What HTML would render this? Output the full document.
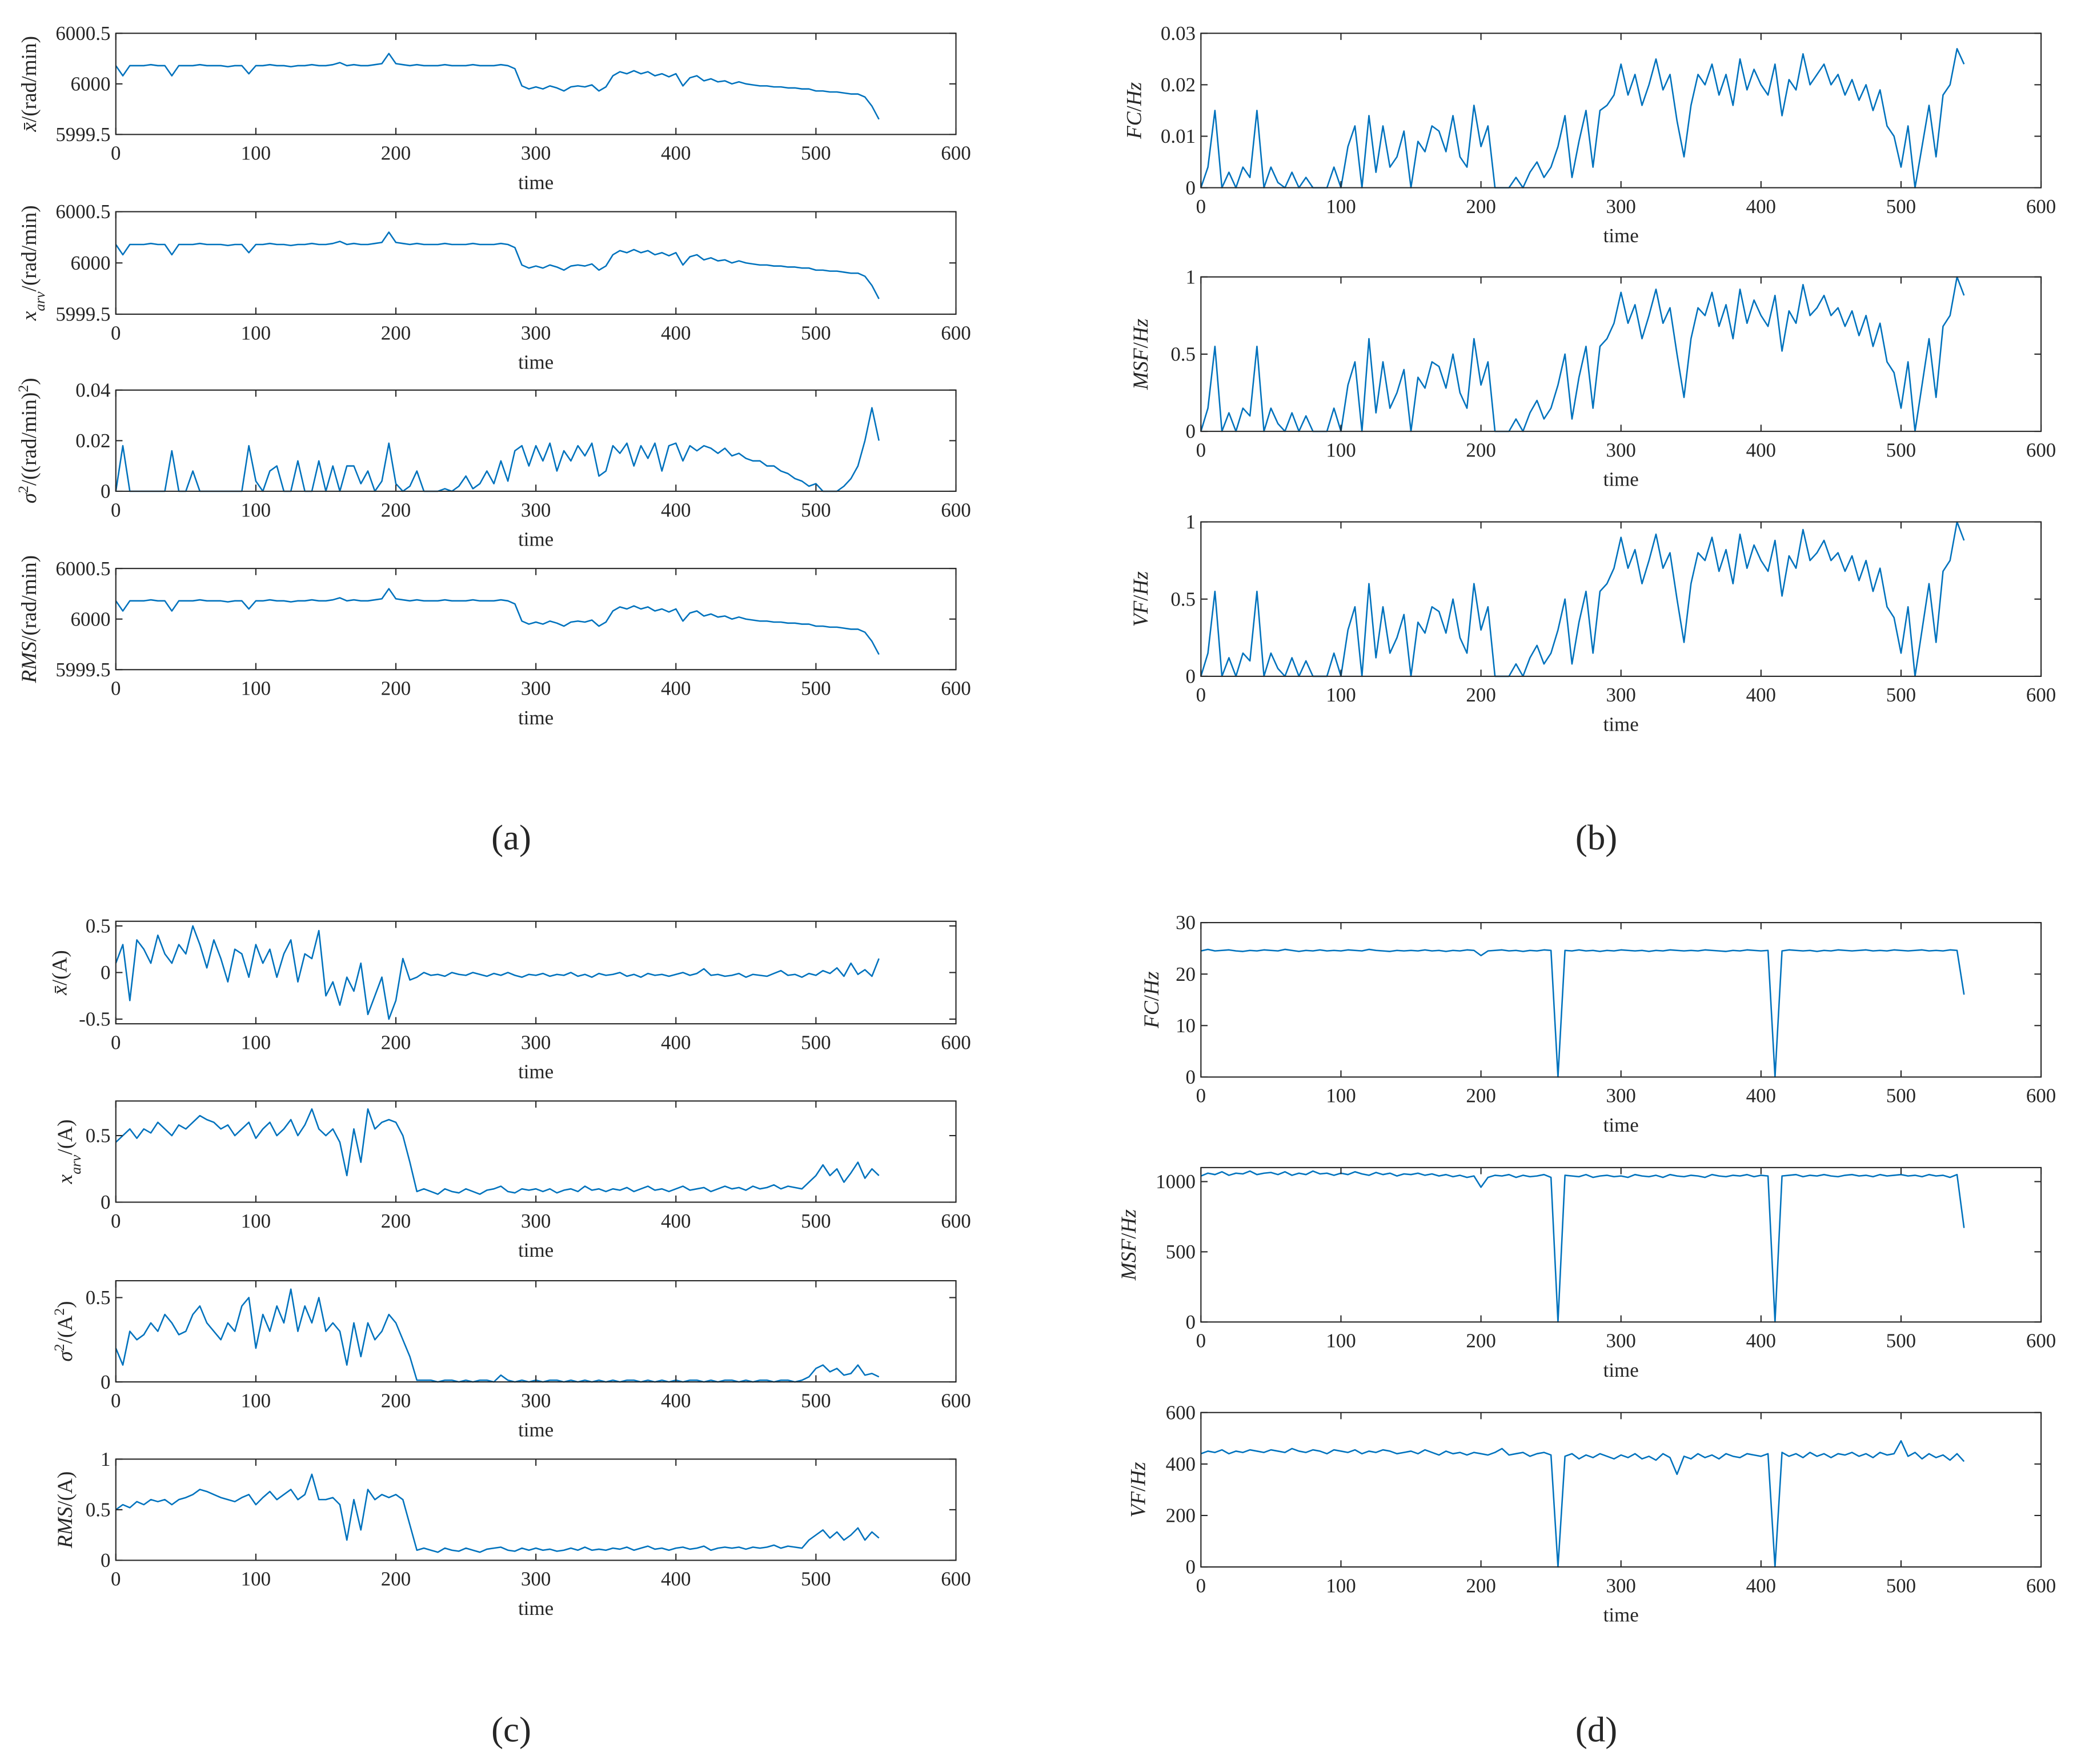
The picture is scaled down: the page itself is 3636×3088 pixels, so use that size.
<!DOCTYPE html>
<html><head><meta charset="utf-8"><style>
html,body{margin:0;padding:0;background:#fff;}
svg{display:block;}
text{font-family:"Liberation Serif",serif;fill:#262626;}
</style></head>
<body>
<svg id="fig" width="3636" height="3088" viewBox="0 0 1560 1325" preserveAspectRatio="none" xmlns="http://www.w3.org/2000/svg">
<rect x="0" y="0" width="1560" height="1325" fill="#fff"/>
<text x="384" y="638" font-size="27" text-anchor="middle">(a)</text>
<text x="1199" y="638" font-size="27" text-anchor="middle">(b)</text>
<text x="384" y="1308" font-size="27" text-anchor="middle">(c)</text>
<text x="1199" y="1308" font-size="27" text-anchor="middle">(d)</text>
</svg>
<script>
const xTicks = [0,100,200,300,400,500,600];
const tStep = 5;
const speedV = [
6000.18,6000.08,6000.18,6000.18,6000.18,6000.19,6000.18,6000.18,6000.08,6000.18,
6000.18,6000.18,6000.19,6000.18,6000.18,6000.18,6000.17,6000.18,6000.18,6000.1,
6000.18,6000.18,6000.19,6000.18,6000.18,6000.17,6000.18,6000.18,6000.19,6000.18,
6000.18,6000.19,6000.21,6000.18,6000.19,6000.18,6000.18,6000.19,6000.2,6000.3,
6000.2,6000.19,6000.18,6000.19,6000.18,6000.18,6000.18,6000.19,6000.18,6000.18,
6000.18,6000.19,6000.18,6000.18,6000.18,6000.19,6000.18,6000.15,5999.98,5999.95,
5999.97,5999.95,5999.98,5999.96,5999.93,5999.97,5999.98,5999.97,5999.99,5999.93,
5999.97,6000.08,6000.12,6000.1,6000.13,6000.1,6000.12,6000.08,6000.1,6000.07,
6000.1,5999.98,6000.06,6000.08,6000.03,6000.05,6000.02,6000.03,6000.0,6000.02,
6000.0,5999.99,5999.98,5999.98,5999.97,5999.97,5999.96,5999.96,5999.95,5999.95,
5999.93,5999.93,5999.92,5999.92,5999.91,5999.9,5999.9,5999.87,5999.78,5999.65];
const speedVarV = [
0,.018,0,0,0,0,0,0,.016,0,
0,.008,0,0,0,0,0,0,0,.018,
.004,0,.008,.01,0,0,.012,0,0,.012,
0,.01,0,.01,.01,.003,.008,0,.004,.019,
.003,0,.002,.008,0,0,0,.001,0,.002,
.006,.001,.003,.008,.003,.012,.004,.016,.018,.01,
.018,.012,.019,.008,.016,.012,.018,.014,.019,.006,
.008,.018,.015,.019,.01,.018,.013,.019,.008,.018,
.019,.012,.018,.016,.018,.017,.015,.017,.014,.015,
.013,.012,.012,.01,.01,.008,.007,.005,.004,.002,
.003,0,0,0,.002,.005,.01,.02,.033,.02];
const fcV = [
0,.004,.015,0,.003,0,.004,.002,.015,0,
.004,.001,0,.003,0,.002,0,0,0,.004,
0,.008,.012,0,.014,.003,.012,.004,.006,.011,
0,.009,.007,.012,.011,.007,.014,.006,.004,.016,
.008,.012,0,0,0,.002,0,.003,.005,.002,
.004,.008,.014,.002,.009,.015,.004,.015,.016,.018,
.024,.018,.022,.016,.02,.025,.019,.022,.013,.006,
.016,.022,.02,.024,.018,.022,.016,.025,.019,.023,
.02,.018,.024,.014,.021,.019,.026,.02,.022,.024,
.02,.022,.018,.021,.017,.02,.015,.019,.012,.01,
.004,.012,0,.008,.016,.006,.018,.02,.027,.024];
const msfV = [
0,.15,.55,0,.12,0,.15,.1,.55,0,
.15,.05,0,.12,0,.1,0,0,0,.15,
0,.3,.45,0,.6,.12,.45,.15,.25,.4,
0,.35,.28,.45,.42,.28,.5,.25,.15,.6,
.3,.45,0,0,0,.08,0,.12,.2,.08,
.15,.3,.5,.08,.35,.55,.15,.55,.6,.7,
.9,.7,.82,.6,.75,.92,.7,.8,.5,.22,
.6,.8,.75,.9,.68,.82,.6,.92,.7,.85,
.75,.68,.88,.52,.78,.7,.95,.75,.8,.88,
.75,.8,.68,.78,.62,.75,.55,.7,.45,.38,
.15,.45,0,.3,.6,.22,.68,.75,1,.88];
const curMeanV = [
.1,.3,-.3,.35,.25,.1,.4,.2,.1,.3,
.2,.5,.3,.05,.35,.15,-.1,.25,.2,-.05,
.3,.1,.25,-.05,.2,.35,-.1,.2,.15,.45,
-.25,-.1,-.35,-.05,-.2,.1,-.45,-.25,-.05,-.5,
-.3,.15,-.08,-.05,0,-.03,-.02,-.04,0,-.02,
-.03,0,-.02,-.04,-.01,-.03,0,-.03,-.05,-.02,
-.03,-.01,-.04,-.02,-.03,0,-.04,-.02,-.05,-.01,
-.03,-.02,0,-.04,-.02,-.05,-.01,-.03,-.02,-.04,
-.02,0,-.03,-.01,.04,-.03,-.02,-.04,-.03,-.01,
-.05,-.02,-.03,-.04,-.01,.02,-.03,-.02,-.05,-.01,
-.03,.02,-.01,.05,-.04,.1,-.02,.03,-.04,.15];
const curArvV = [
.45,.5,.55,.48,.55,.52,.6,.55,.5,.58,
.55,.6,.65,.62,.6,.55,.58,.5,.55,.6,
.48,.55,.6,.5,.55,.62,.5,.58,.7,.55,
.5,.55,.45,.2,.55,.3,.7,.55,.6,.62,
.6,.5,.3,.08,.1,.08,.06,.1,.08,.07,
.1,.08,.06,.09,.1,.12,.08,.07,.1,.09,
.1,.08,.1,.07,.09,.1,.08,.12,.09,.1,
.08,.1,.09,.11,.08,.1,.12,.09,.1,.08,
.1,.12,.09,.1,.11,.08,.1,.12,.1,.11,
.09,.12,.1,.11,.13,.1,.12,.11,.1,.15,
.2,.28,.2,.25,.15,.22,.3,.18,.25,.2];
const curVarV = [
.2,.1,.3,.25,.28,.35,.3,.4,.35,.28,
.3,.4,.45,.35,.3,.25,.35,.3,.45,.5,
.2,.4,.3,.45,.35,.55,.3,.45,.35,.5,
.3,.35,.3,.1,.35,.15,.35,.25,.3,.4,
.35,.25,.15,.01,.01,.01,0,.01,.01,0,
.01,0,.01,.01,0,.04,.01,0,.01,0,
.01,0,.01,.01,0,.01,0,.01,0,.01,
0,.01,0,.01,.01,0,.01,0,.01,0,
.01,0,.01,.01,0,.01,0,.01,.01,0,
.01,0,.01,.01,0,.01,.01,0,.01,.03,
.08,.1,.06,.08,.04,.05,.1,.04,.05,.03];
const curRmsV = [
.5,.55,.52,.58,.55,.6,.58,.6,.55,.6,
.62,.65,.7,.68,.65,.62,.6,.58,.62,.65,
.55,.62,.68,.6,.65,.7,.6,.65,.85,.6,
.6,.62,.55,.2,.6,.3,.7,.6,.65,.62,
.65,.6,.35,.1,.12,.1,.08,.12,.1,.09,
.12,.1,.08,.11,.12,.13,.1,.09,.12,.1,
.12,.1,.11,.09,.1,.12,.1,.13,.1,.11,
.1,.12,.11,.13,.1,.12,.14,.11,.12,.1,
.12,.13,.11,.12,.14,.1,.12,.13,.12,.13,
.11,.13,.12,.13,.15,.12,.14,.13,.12,.2,
.25,.3,.22,.28,.2,.25,.32,.2,.28,.22];
const dFcV = [
24.5,24.8,24.5,24.6,24.7,24.5,24.4,24.6,24.5,24.7,
24.6,24.5,24.8,24.6,24.4,24.6,24.5,24.7,24.5,24.6,
24.5,24.7,24.6,24.5,24.8,24.6,24.5,24.4,24.6,24.5,
24.6,24.5,24.7,24.5,24.6,24.4,24.6,24.5,24.7,24.6,
23.6,24.5,24.6,24.7,24.5,24.6,24.4,24.6,24.5,24.7,
24.6,0,24.6,24.5,24.7,24.5,24.6,24.4,24.6,24.5,
24.7,24.6,24.5,24.6,24.4,24.6,24.5,24.7,24.6,24.5,
24.6,24.5,24.7,24.6,24.5,24.4,24.6,24.5,24.7,24.6,
24.5,24.6,0,24.5,24.7,24.6,24.5,24.6,24.4,24.6,
24.5,24.7,24.6,24.5,24.6,24.7,24.5,24.6,24.5,24.7,
24.6,24.5,24.6,24.7,24.5,24.6,24.5,24.7,24.6,16];
const dMsfV = [
1040,1060,1050,1070,1045,1060,1055,1075,1050,1060,
1065,1050,1070,1045,1060,1050,1075,1055,1060,1045,
1060,1050,1070,1055,1045,1065,1050,1060,1040,1055,
1050,1060,1045,1055,1040,1050,1035,1045,1030,1040,
960,1030,1045,1040,1050,1030,1045,1035,1040,1050,
1030,0,1045,1040,1035,1050,1030,1040,1045,1035,
1040,1030,1050,1040,1035,1045,1030,1050,1040,1035,
1045,1040,1030,1050,1040,1035,1045,1040,1050,1035,
1045,1040,0,1040,1045,1050,1035,1045,1040,1050,
1040,1035,1045,1050,1040,1045,1035,1050,1040,1045,
1050,1040,1045,1035,1050,1040,1045,1030,1050,670];
const dVfV = [
440,450,445,455,440,450,445,455,450,445,
455,450,445,460,450,445,455,450,440,455,
450,445,455,440,450,445,455,450,440,445,
450,440,455,445,435,450,440,445,435,445,
440,435,445,460,435,440,445,430,440,445,
435,0,430,440,420,435,425,440,430,420,
435,425,440,420,430,415,440,425,360,430,
420,440,425,435,420,440,430,425,440,435,
430,440,0,445,430,440,425,445,430,440,
425,440,435,445,430,440,425,445,435,440,
490,430,445,420,440,425,435,415,440,410];

const NS = 'http://www.w3.org/2000/svg';
const svg = document.getElementById('fig');
function mk(tag, attrs, parent){
  const e = document.createElementNS(NS, tag);
  for (const k in attrs) e.setAttribute(k, attrs[k]);
  (parent||svg).appendChild(e);
  return e;
}
function fmt(v){ return String(v); }

function plot(id, x0, x1, yt, yb, ymin, ymax, yTicks, values, labelParts, labelX){
  const g = mk('g', {});
  
  
  const xs = t => x0 + (t - 0) / 600 * (x1 - x0);
  const ys = v => yb - (v - ymin) / (ymax - ymin) * (yb - yt);
  // series
  let d = '';
  values.forEach((v, i) => { d += (i ? 'L' : 'M') + xs(i * tStep).toFixed(2) + ',' + ys(v).toFixed(2); });
  const line = mk('path', {d: d, fill: 'none', stroke: '#0072BD', 'stroke-width': 1.1, 'stroke-linejoin': 'round'}, g);
  
  
  // frame
  const fr = mk('rect', {x: x0, y: yt, width: x1 - x0, height: yb - yt, fill: 'none', stroke: '#262626', 'stroke-width': 0.9}, g);
  
  
  // x ticks
  xTicks.forEach(t => {
    const x = xs(t);
    mk('line', {x1: x, x2: x, y1: yb, y2: yb - 5, stroke: '#262626', 'stroke-width': 0.9}, g);
    mk('line', {x1: x, x2: x, y1: yt, y2: yt + 5, stroke: '#262626', 'stroke-width': 0.9}, g);
    const tl = mk('text', {x: x, y: yb + 19, 'font-size': 15, 'text-anchor': 'middle'}, g);
    tl.textContent = fmt(t);
    
    
  });
  yTicks.forEach(v => {
    const y = ys(v);
    mk('line', {x1: x0, x2: x0 + 5, y1: y, y2: y, stroke: '#262626', 'stroke-width': 0.9}, g);
    mk('line', {x1: x1, x2: x1 - 5, y1: y, y2: y, stroke: '#262626', 'stroke-width': 0.9}, g);
    const tl = mk('text', {x: x0 - 4, y: y + 5, 'font-size': 15, 'text-anchor': 'end'}, g);
    tl.textContent = fmt(v);
    
    
  });
  const xl = mk('text', {x: (x0 + x1) / 2, y: yb + 41, 'font-size': 15, 'text-anchor': 'middle'}, g);
  xl.textContent = 'time';
  
  
  const cy = (yt + yb) / 2;
  const yl = mk('text', {x: 0, y: 0, 'font-size': 16, 'text-anchor': 'middle', transform: 'translate(' + labelX + ',' + cy + ') rotate(-90)'}, g);
  
  
  labelParts.forEach(p => {
    const ts = mk('tspan', {}, yl);
    if (p.i) ts.setAttribute('font-style', 'italic');
    if (p.sub) { ts.setAttribute('baseline-shift', 'sub'); ts.setAttribute('font-size', 11); }
    if (p.sup) { ts.setAttribute('baseline-shift', 'super'); ts.setAttribute('font-size', 11); }
    ts.textContent = p.t;
  });
}

const xbar = [{t:'x\u0304', i:1}];
const xarv = [{t:'x', i:1},{t:'arv', i:1, sub:1}];
// (a)
plot('a-mean', 87, 718, 25, 101, 5999.5, 6000.5, [5999.5,6000,6000.5], speedV, xbar.concat([{t:'/(rad/min)'}]), 27);
plot('a-arv', 87, 718, 159, 236, 5999.5, 6000.5, [5999.5,6000,6000.5], speedV, xarv.concat([{t:'/(rad/min)'}]), 27);
plot('a-var', 87, 718, 293, 369, 0, 0.04, [0,0.02,0.04], speedVarV, [{t:'σ', i:1},{t:'2', sup:1},{t:'/((rad/min)'},{t:'2', sup:1},{t:')'}], 27);
plot('a-rms', 87, 718, 427, 503, 5999.5, 6000.5, [5999.5,6000,6000.5], speedV, [{t:'RMS', i:1},{t:'/(rad/min)'}], 27);
// (b)
plot('b-fc', 902, 1533, 25, 141, 0, 0.03, [0,0.01,0.02,0.03], fcV, [{t:'FC', i:1},{t:'/'},{t:'Hz', i:1}], 857);
plot('b-msf', 902, 1533, 208, 324, 0, 1, [0,0.5,1], msfV, [{t:'MSF', i:1},{t:'/'},{t:'Hz', i:1}], 862);
plot('b-vf', 902, 1533, 392, 508, 0, 1, [0,0.5,1], msfV, [{t:'VF', i:1},{t:'/'},{t:'Hz', i:1}], 862);
// (c)
plot('c-mean', 87, 718, 692, 769, -0.55, 0.55, [-0.5,0,0.5], curMeanV, xbar.concat([{t:'/(A)'}]), 50);
plot('c-arv', 87, 718, 827, 903, 0, 0.76, [0,0.5], curArvV, xarv.concat([{t:'/(A)'}]), 54);
plot('c-var', 87, 718, 962, 1038, 0, 0.6, [0,0.5], curVarV, [{t:'σ', i:1},{t:'2', sup:1},{t:'/(A'},{t:'2', sup:1},{t:')'}], 54);
plot('c-rms', 87, 718, 1096, 1172, 0, 1, [0,0.5,1], curRmsV, [{t:'RMS', i:1},{t:'/(A)'}], 54);
// (d)
plot('d-fc', 902, 1533, 693, 809, 0, 30, [0,10,20,30], dFcV, [{t:'FC', i:1},{t:'/'},{t:'Hz', i:1}], 870);
plot('d-msf', 902, 1533, 877, 993, 0, 1100, [0,500,1000], dMsfV, [{t:'MSF', i:1},{t:'/'},{t:'Hz', i:1}], 853);
plot('d-vf', 902, 1533, 1061, 1177, 0, 600, [0,200,400,600], dVfV, [{t:'VF', i:1},{t:'/'},{t:'Hz', i:1}], 860);
</script>
</body></html>
